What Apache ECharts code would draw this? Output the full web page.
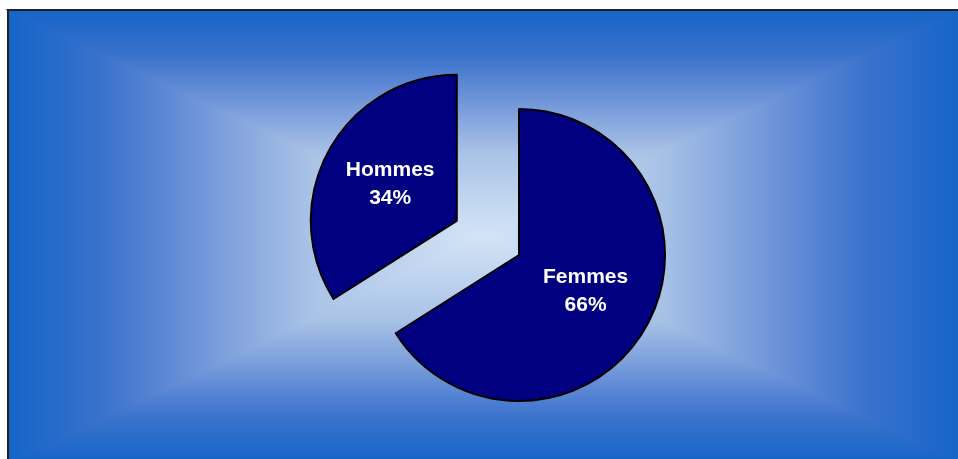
<!DOCTYPE html>
<html>
<head>
<meta charset="utf-8">
<script src="https://cdn.jsdelivr.net/npm/echarts@6/dist/echarts.min.js"></script>
<style>
  html, body { margin: 0; padding: 0; background: #fff; }
  #chart { width: 958px; height: 459px; }
</style>
</head>
<body>
<div id="chart"></div>
<script>
// data
var categories = ['Femmes', 'Hommes'];
var values = [66, 34];
var pulledOut = ['Hommes'];

var myChart = echarts.init(document.getElementById('chart'));

// frame of the plot area (goes a bit past the window on the right and bottom)
var L = 8, T = 10, R = 962, B = 464;
var CX = 484, CY = 236;

// edge -> centre of the background
function grad(x, y, x2, y2) {
    return new echarts.graphic.LinearGradient(x, y, x2, y2, [
        { offset: 0, color: '#1464c8' },
        { offset: 0.2, color: '#3a72cc' },
        { offset: 0.32, color: '#5a86d4' },
        { offset: 0.44, color: '#7a9ddb' },
        { offset: 0.63, color: '#a8c2e6' },
        { offset: 1, color: '#d4e4f6' }
    ], true);
}
function tri(pts, x, y, x2, y2) {
    var g = grad(x, y, x2, y2);
    return {
        type: 'polygon',
        silent: true,
        shape: { points: pts },
        style: { fill: g, stroke: g, lineWidth: 1.5 }
    };
}

var bg = [
    tri([[L, T], [R, T], [CX, CY]], 0, T, 0, CY),
    tri([[L, B], [R, B], [CX, CY]], 0, B, 0, CY),
    tri([[L, T], [L, B], [CX, CY]], L, 0, CX, 0),
    tri([[R, T], [R, B], [CX, CY]], R, 0, CX, 0),
    {
        type: 'rect',
        silent: true,
        shape: { x: L, y: T, width: R - L, height: B - T },
        style: { fill: null, stroke: '#222', lineWidth: 2 }
    }
];

var pieData = [];
for (var i = 0; i < categories.length; i++) {
    pieData.push({
        name: categories[i],
        value: values[i],
        selected: pulledOut.indexOf(categories[i]) >= 0
    });
}

var option = {
    animation: false,
    graphic: { elements: bg },
    series: [
        {
            type: 'pie',
            z: 10,
            center: [519, 255],
            radius: [0, 146],
            startAngle: 90,
            clockwise: true,
            selectedMode: 'multiple',
            selectedOffset: 71,
            avoidLabelOverlap: false,
            itemStyle: {
                color: '#000080',
                borderColor: '#000',
                borderWidth: 2
            },
            label: {
                show: true,
                position: 'inside',
                formatter: '{b}\n{d}%',
                color: '#fff',
                fontFamily: 'Liberation Sans, Arial, sans-serif',
                fontWeight: 'bold',
                fontSize: 21,
                lineHeight: 28
            },
            labelLine: { show: false },
            emphasis: { disabled: true },
            data: pieData
        }
    ]
};
myChart.setOption(option);
</script>
</body>
</html>
